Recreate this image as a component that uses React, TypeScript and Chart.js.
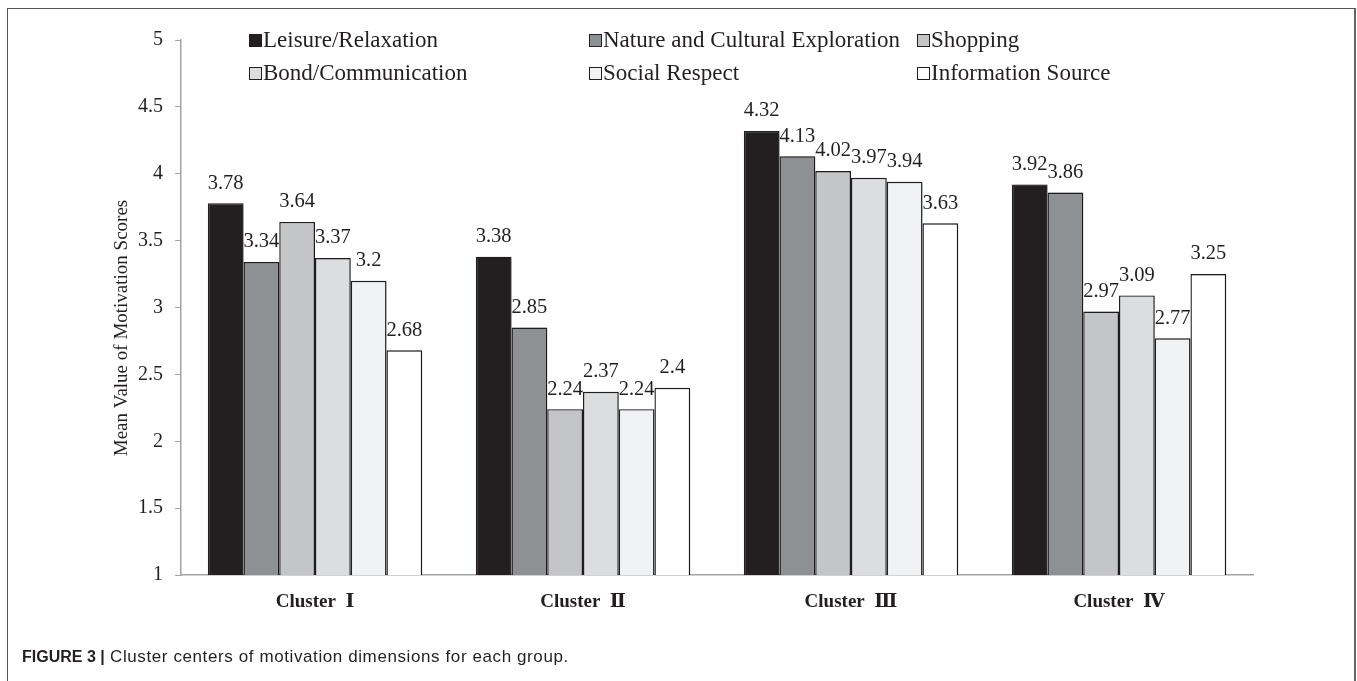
import React, { useEffect, useRef } from "react";
import { Chart, registerables } from "chart.js";

Chart.register(...registerables);

// Cluster groups along the x axis
const categories = ["Cluster  Ⅰ", "Cluster  Ⅱ", "Cluster  Ⅲ", "Cluster  Ⅳ"];

// Motivation dimensions (one bar per dimension in each cluster)
const seriesNames = [
  "Leisure/Relaxation",
  "Nature and Cultural Exploration",
  "Shopping",
  "Bond/Communication",
  "Social Respect",
  "Information Source",
];

// Mean motivation scores per cluster
const leisure = [3.78, 3.38, 4.32, 3.92];
const nature = [3.34, 2.85, 4.13, 3.86];
const shopping = [3.64, 2.24, 4.02, 2.97];
const bond = [3.37, 2.37, 3.97, 3.09];
const socialRespect = [3.2, 2.24, 3.94, 2.77];
const infoSource = [2.68, 2.4, 3.63, 3.25];

const seriesValues = [leisure, nature, shopping, bond, socialRespect, infoSource];

// Value axis range and step
const yMin = 1;
const yMax = 5;
const yStep = 0.5;

const yTitle = "Mean Value of Motivation Scores";

const barColors = ["#231f20", "#8e9194", "#c4c5c7", "#dcdddf", "#f1f2f3", "#ffffff"];
const inkColor = "#231f20";
const axisColor = "#a3a3a3";
const SERIF = "'Liberation Serif', 'Times New Roman', 'DejaVu Serif', serif";

// soft drop shadow behind the bars
const shadowPlugin = {
  id: "barShadow",
  beforeDatasetsDraw(chart: any) {
    const ctx = chart.ctx;
    ctx.save();
    ctx.shadowColor = "rgba(0,0,0,0.35)";
    ctx.shadowBlur = 3;
    ctx.shadowOffsetX = 1.5;
    ctx.shadowOffsetY = 0.5;
  },
  afterDatasetsDraw(chart: any) {
    chart.ctx.restore();
  },
};

// value label above every bar
const valueLabelPlugin = {
  id: "valueLabels",
  afterDatasetsDraw(chart: any) {
    const ctx = chart.ctx;
    ctx.save();
    ctx.font = `20.5px ${SERIF}`;
    ctx.fillStyle = inkColor;
    ctx.textAlign = "center";
    ctx.textBaseline = "middle";
    chart.data.datasets.forEach((ds: any, di: number) => {
      const meta = chart.getDatasetMeta(di);
      meta.data.forEach((bar: any, i: number) => {
        ctx.fillText(String(ds.data[i]), bar.x, bar.y - 20);
      });
    });
    ctx.restore();
  },
};

// two-row legend laid over the top of the plot
const legendPlugin = {
  id: "gridLegend",
  afterDraw(chart: any) {
    const ctx = chart.ctx;
    const colX = [249, 589, 917];
    const rowY = [40, 73];
    const box = 12;
    ctx.save();
    ctx.font = `23px ${SERIF}`;
    ctx.textBaseline = "middle";
    ctx.textAlign = "left";
    chart.data.datasets.forEach((ds: any, i: number) => {
      const x = colX[i % 3];
      const y = rowY[Math.floor(i / 3)];
      ctx.fillStyle = ds.backgroundColor;
      ctx.fillRect(x + 0.5, y - box / 2 + 0.5, box, box);
      ctx.strokeStyle = inkColor;
      ctx.lineWidth = 1;
      ctx.strokeRect(x + 0.5, y - box / 2 + 0.5, box, box);
      ctx.fillStyle = inkColor;
      ctx.fillText(ds.label, x + 14, y + 1);
    });
    ctx.restore();
  },
};

// rotated y-axis title
const yTitlePlugin = {
  id: "yTitle",
  afterDraw(chart: any) {
    const ctx = chart.ctx;
    ctx.save();
    ctx.translate(122, 328);
    ctx.rotate(-Math.PI / 2);
    ctx.font = `19px ${SERIF}`;
    ctx.fillStyle = inkColor;
    ctx.textAlign = "center";
    ctx.textBaseline = "middle";
    ctx.fillText(yTitle, 0, 0);
    ctx.restore();
  },
};

export default function App() {
  const canvasRef = useRef<HTMLCanvasElement | null>(null);

  useEffect(() => {
    if (!canvasRef.current) return;
    const chart = new Chart(canvasRef.current, {
      type: "bar",
      data: {
        labels: categories,
        datasets: seriesNames.map((name, i) => ({
          label: name,
          data: seriesValues[i],
          backgroundColor: barColors[i],
          borderColor: inkColor,
          borderWidth: 1.4,
          categoryPercentage: 0.8,
          barPercentage: 1,
        })),
      },
      options: {
        responsive: false,
        animation: false,
        devicePixelRatio: 1,
        layout: { padding: { top: 40, right: 104, left: 0, bottom: 0 } },
        plugins: {
          legend: { display: false },
          tooltip: { enabled: false },
          title: { display: false },
        },
        scales: {
          x: {
            grid: { display: false, drawTicks: false },
            border: { display: true, color: axisColor, width: 1.5 },
            ticks: {
              padding: 16,
              color: inkColor,
              font: { family: SERIF, size: 19, weight: "bold" },
            },
            afterFit(scale: any) {
              scale.height = 106;
            },
          },
          y: {
            min: yMin,
            max: yMax,
            grid: { drawOnChartArea: false, drawTicks: true, tickLength: 6, color: axisColor },
            border: { display: true, color: axisColor, width: 1.5 },
            ticks: {
              stepSize: yStep,
              padding: 12,
              color: inkColor,
              font: { family: SERIF, size: 20 },
              callback: (v: any) => String(Number(v)),
            },
            afterFit(scale: any) {
              scale.width = 181;
            },
          },
        },
      },
      plugins: [shadowPlugin, valueLabelPlugin, legendPlugin, yTitlePlugin],
    });
    return () => chart.destroy();
  }, []);

  return (
    <div
      style={{
        position: "absolute",
        left: 0,
        top: 0,
        width: 1357,
        height: 681,
        overflow: "hidden",
        background: "#fff",
      }}
    >
      <div
        style={{
          position: "absolute",
          left: 7,
          top: 8,
          width: 1346,
          height: 720,
          borderLeft: "1px solid #555",
          borderTop: "1px solid #555",
          borderRight: "2px solid #666",
        }}
      />
      <canvas
        ref={canvasRef}
        width={1357}
        height={681}
        style={{ position: "absolute", left: 0, top: 0, width: 1357, height: 681 }}
      />
      <div
        style={{
          position: "absolute",
          left: 22,
          top: 647,
          fontFamily: "'Liberation Sans', Arial, sans-serif",
          fontSize: 17,
          lineHeight: "20px",
          color: "#231f20",
          whiteSpace: "nowrap",
        }}
      >
        <b style={{ fontSize: 16, letterSpacing: 0 }}>FIGURE 3 |</b>
        <span style={{ letterSpacing: "0.6px" }}> Cluster centers of motivation dimensions for each group.</span>
      </div>
    </div>
  );
}
